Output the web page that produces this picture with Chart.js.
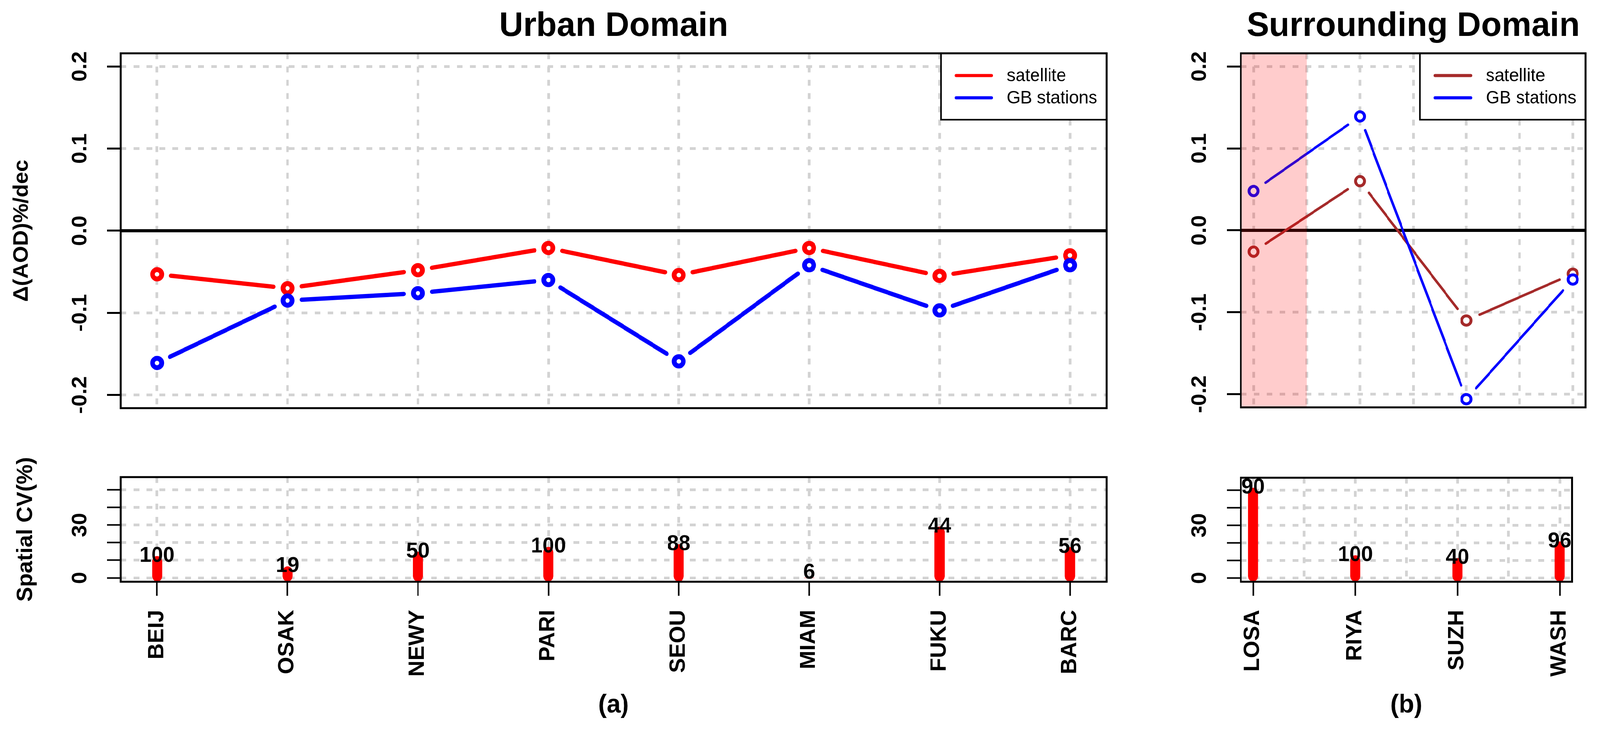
<!DOCTYPE html>
<html>
<head>
<meta charset="utf-8">
<script src="https://cdn.jsdelivr.net/npm/chart.js@4.4.1/dist/chart.umd.min.js"></script>
<style>
html, body { margin: 0; padding: 0; background: #fff; overflow: hidden; }
#page { width: 4205px; height: 1880px; position: relative; transform-origin: 0 0; }
canvas { position: absolute; }
</style>
</head>
<body>
<div id="page">
<canvas id="urbanTrend" width="2960" height="1100" style="left:0;top:0"></canvas>
<canvas id="urbanCV" width="2960" height="730" style="left:0;top:1150px"></canvas>
<canvas id="surrTrend" width="1255" height="1100" style="left:2950px;top:0"></canvas>
<canvas id="surrCV" width="1255" height="730" style="left:2950px;top:1150px"></canvas>
</div>
<script>
// site codes
var urbanSites = ['BEIJ', 'OSAK', 'NEWY', 'PARI', 'SEOU', 'MIAM', 'FUKU', 'BARC'];
var surrSites = ['LOSA', 'RIYA', 'SUZH', 'WASH'];

// AOD trend, %/dec
var urbanSat = [-0.053, -0.070, -0.048, -0.021, -0.054, -0.021, -0.055, -0.030];
var urbanGB = [-0.161, -0.085, -0.076, -0.060, -0.159, -0.042, -0.097, -0.042];
var surrSat = [-0.026, 0.060, -0.110, -0.053];
var surrGB = [0.048, 0.139, -0.206, -0.060];

// spatial CV (%) and the numbers written over the bars
var urbanCV = [9.5, 3.7, 12.0, 14.7, 16.2, 0, 26.2, 14.6];
var urbanNum = [100, 19, 50, 100, 88, 6, 44, 56];
var surrCV = [48.6, 10.0, 8.4, 17.9];
var surrNum = [90, 100, 40, 96];

// ticks
var trendTicks = [-0.2, -0.1, 0.0, 0.1, 0.2];
var cvTicks = [0, 10, 20, 30, 40, 50];
var cvTickLabels = [0, 30];
var shadeUpTo = 1.5; // LOSA band in the surrounding panel

// the window can be narrower than the 4205px figure: squeeze it to fit
var kx = Math.min(1, window.innerWidth / 4205);
document.getElementById('page').style.transform = 'scale(' + kx + ',1)';

Chart.defaults.font.family = "'Liberation Sans', Arial, Helvetica, sans-serif";
Chart.defaults.color = '#000';

var GRID = '#d3d3d3';
var DASH = [15, 19];
var BAR_W = 26;

function pts(vals) {
    return vals.map(function (v, i) { return { x: i + 1, y: v }; });
}
function gridXs(n, step) {
    var out = [];
    for (var v = 1; v <= n + 1e-9; v += step) out.push({ value: Math.round(v * 2) / 2 });
    return out;
}
// R type="b": leave a gap round every point
function gapDash(gap) {
    return function (c) {
        var L = Math.hypot(c.p1.x - c.p0.x, c.p1.y - c.p0.y);
        return [0, gap, Math.max(0, L - 2 * gap), 2 * L + 10];
    };
}

var frame = {
    id: 'frame',
    afterDraw: function (chart) {
        var a = chart.chartArea, ctx = chart.ctx;
        ctx.save();
        ctx.strokeStyle = '#000';
        ctx.lineWidth = 5;
        ctx.strokeRect(a.left, a.top, a.right - a.left, a.bottom - a.top);
        ctx.restore();
    }
};

var zeroLine = {
    id: 'zeroLine',
    beforeDatasetsDraw: function (chart) {
        var a = chart.chartArea, ctx = chart.ctx;
        var y = chart.scales.y.getPixelForValue(0);
        ctx.save();
        ctx.strokeStyle = '#000';
        ctx.lineWidth = 8;
        ctx.beginPath();
        ctx.moveTo(a.left, y);
        ctx.lineTo(a.right, y);
        ctx.stroke();
        ctx.restore();
    }
};

var band = {
    id: 'band',
    afterDatasetsDraw: function (chart, args, o) {
        if (o.to == null) return;
        var a = chart.chartArea, ctx = chart.ctx;
        var x2 = chart.scales.x.getPixelForValue(o.to);
        ctx.save();
        ctx.fillStyle = 'rgba(255,0,0,0.2)';
        ctx.fillRect(a.left, a.top, x2 - a.left, a.bottom - a.top);
        ctx.restore();
    }
};

var boxLegend = {
    id: 'boxLegend',
    afterDatasetsDraw: function (chart) {
        var a = chart.chartArea, ctx = chart.ctx;
        var w = 435, h = 170, x = a.right - w, y = a.top;
        ctx.save();
        ctx.fillStyle = '#fff';
        ctx.fillRect(x, y, w, h);
        ctx.strokeStyle = '#000';
        ctx.lineWidth = 4;
        ctx.strokeRect(x, y, w, h);
        ctx.font = "46px 'Liberation Sans', Arial, sans-serif";
        ctx.textBaseline = 'middle';
        ctx.textAlign = 'left';
        chart.data.datasets.forEach(function (ds, i) {
            var ly = y + 57 + i * 57;
            ctx.strokeStyle = ds.borderColor;
            ctx.lineWidth = 8;
            ctx.lineCap = 'round';
            ctx.beginPath();
            ctx.moveTo(x + 40, ly);
            ctx.lineTo(x + 133, ly);
            ctx.stroke();
            ctx.fillStyle = '#000';
            ctx.fillText(ds.label, x + 173, ly + 2);
        });
        ctx.restore();
    }
};

// round line ends of the CV bars (R type="h" with a thick lwd)
var barCaps = {
    id: 'barCaps',
    afterDatasetsDraw: function (chart) {
        var a = chart.chartArea, ctx = chart.ctx;
        var meta = chart.getDatasetMeta(0);
        var data = chart.data.datasets[0].data;
        ctx.save();
        ctx.beginPath();
        ctx.rect(a.left, a.top, a.right - a.left, a.bottom - a.top);
        ctx.clip();
        ctx.fillStyle = chart.data.datasets[0].backgroundColor;
        meta.data.forEach(function (el, i) {
            if (!(data[i].y > 0)) return;
            var r = el.width / 2;
            ctx.beginPath();
            ctx.arc(el.x, el.y, r, 0, Math.PI * 2);
            ctx.arc(el.x, el.base, r, 0, Math.PI * 2);
            ctx.fill();
        });
        ctx.restore();
    }
};

var barLabels = {
    id: 'barLabels',
    afterDatasetsDraw: function (chart, args, o) {
        var ctx = chart.ctx, ys = chart.scales.y;
        var meta = chart.getDatasetMeta(0);
        var data = chart.data.datasets[0].data;
        ctx.save();
        ctx.font = "bold 55px 'Liberation Sans', Arial, sans-serif";
        ctx.fillStyle = '#000';
        ctx.textAlign = 'center';
        ctx.textBaseline = 'middle';
        meta.data.forEach(function (el, i) {
            ctx.fillText(String(o.labels[i]), el.x, ys.getPixelForValue(data[i].y + 3));
        });
        ctx.restore();
    }
};

function trendChart(id, sites, sat, gb, s) {
    var n = sites.length, pad = 0.04 * (n - 1);
    function series(label, vals, color, order) {
        return {
            label: label,
            data: pts(vals),
            borderColor: color,
            backgroundColor: color,
            pointBorderColor: color,
            pointBackgroundColor: '#fff',
            borderWidth: s.lw,
            borderCapStyle: 'round',
            pointRadius: s.pr,
            pointBorderWidth: s.pbw,
            tension: 0,
            segment: { borderDash: gapDash(s.gap) },
            order: order
        };
    }
    return new Chart(document.getElementById(id), {
        type: 'line',
        data: {
            datasets: [
                series('satellite', sat, s.satColor, 2),
                series('GB stations', gb, '#0000ff', 1)
            ]
        },
        options: {
            responsive: false,
            animation: false,
            devicePixelRatio: 1,
            layout: { padding: { left: 0, top: 0, right: s.padRight, bottom: 21 } },
            scales: {
                x: {
                    type: 'linear',
                    min: 1 - pad,
                    max: n + pad,
                    offset: false,
                    afterBuildTicks: function (sc) { sc.ticks = gridXs(n, s.gridStep); },
                    ticks: { display: false, autoSkip: false },
                    grid: { color: GRID, lineWidth: 7, drawTicks: false, offset: false },
                    border: { display: false, dash: DASH },
                    afterFit: function (sc) { sc.height = 0; }
                },
                y: {
                    min: -0.216,
                    max: 0.216,
                    afterBuildTicks: function (sc) { sc.ticks = trendTicks.map(function (v) { return { value: v }; }); },
                    ticks: {
                        autoSkip: false,
                        font: { size: 56, weight: 'bold' },
                        minRotation: 90,
                        maxRotation: 90,
                        crossAlign: 'center',
                        padding: s.tickPad,
                        callback: function (v) { return Number(v).toFixed(1); }
                    },
                    grid: { color: GRID, lineWidth: 7, tickLength: 36, tickWidth: 5, tickColor: '#000' },
                    border: { display: false, dash: DASH },
                    title: {
                        display: !!s.yTitle,
                        text: s.yTitle || '',
                        font: { size: 56, weight: 'bold' },
                        padding: { top: 24, bottom: 0 }
                    },
                    afterFit: function (sc) { sc.width = s.yWidth; }
                }
            },
            plugins: {
                legend: { display: false },
                tooltip: { enabled: false },
                title: {
                    display: true,
                    text: s.title,
                    fullSize: false,
                    font: { size: 88, weight: 'bold' },
                    padding: { top: 15, bottom: 16 }
                },
                band: { to: s.bandTo }
            }
        },
        plugins: [zeroLine, band, boxLegend, frame]
    });
}

function cvChart(id, sites, cv, nums, s) {
    var n = sites.length, pad = 0.04 * (n - 1);
    return new Chart(document.getElementById(id), {
        type: 'bar',
        data: {
            datasets: [{
                label: 'Spatial CV(%)',
                data: pts(cv),
                backgroundColor: '#ff0000',
                barThickness: BAR_W,
                borderSkipped: 'start'
            }]
        },
        options: {
            responsive: false,
            animation: false,
            devicePixelRatio: 1,
            layout: { padding: { left: 0, top: 72, right: s.padRight, bottom: 0 } },
            scales: {
                x: {
                    type: 'linear',
                    min: 1 - pad,
                    max: n + pad,
                    offset: false,
                    afterBuildTicks: function (sc) { sc.ticks = gridXs(n, s.gridStep); },
                    ticks: {
                        autoSkip: false,
                        font: { size: 57, weight: 'bold' },
                        minRotation: 90,
                        maxRotation: 90,
                        padding: 36,
                        callback: function (v) { return Number.isInteger(v) ? sites[v - 1] : ''; }
                    },
                    grid: {
                        color: GRID, lineWidth: 7, offset: false,
                        tickLength: 36, tickWidth: 4,
                        tickColor: function (c) { return c.tick && Number.isInteger(c.tick.value) ? '#000' : 'rgba(0,0,0,0)'; }
                    },
                    border: { display: false, dash: DASH },
                    title: {
                        display: true,
                        text: s.panel,
                        font: { size: 66, weight: 'bold' },
                        padding: { top: 0, bottom: 34 }
                    },
                    afterFit: function (sc) { sc.height = 390; }
                },
                y: {
                    min: -2.2,
                    max: 57.2,
                    beginAtZero: false,
                    afterBuildTicks: function (sc) { sc.ticks = cvTicks.map(function (v) { return { value: v }; }); },
                    ticks: {
                        autoSkip: false,
                        font: { size: 56, weight: 'bold' },
                        minRotation: 90,
                        maxRotation: 90,
                        crossAlign: 'center',
                        padding: s.tickPad,
                        callback: function (v) { return cvTickLabels.indexOf(v) >= 0 ? String(v) : ''; }
                    },
                    grid: { color: GRID, lineWidth: 7, tickLength: 36, tickWidth: 4, tickColor: '#000' },
                    border: { display: false, dash: DASH },
                    title: {
                        display: !!s.yTitle,
                        text: s.yTitle || '',
                        font: { size: 57, weight: 'bold' },
                        padding: { top: 34, bottom: 0 }
                    },
                    afterFit: function (sc) { sc.width = s.yWidth; }
                }
            },
            plugins: {
                legend: { display: false },
                tooltip: { enabled: false },
                barLabels: { labels: nums }
            }
        },
        plugins: [barCaps, barLabels, frame]
    });
}

trendChart('urbanTrend', urbanSites, urbanSat, urbanGB, {
    title: 'Urban Domain', yTitle: '\u0394(AOD)%/dec', satColor: '#ff0000',
    lw: 11, pr: 12, pbw: 12.5, gap: 37, yWidth: 317, padRight: 52, tickPad: 21, gridStep: 1, bandTo: null
});
cvChart('urbanCV', urbanSites, urbanCV, urbanNum, {
    panel: '(a)', yTitle: 'Spatial CV(%)', yWidth: 317, padRight: 52, tickPad: 38, gridStep: 1
});
trendChart('surrTrend', surrSites, surrSat, surrGB, {
    title: 'Surrounding Domain', yTitle: '', satColor: '#a52a2a',
    lw: 6.5, pr: 12, pbw: 7.5, gap: 38, yWidth: 311, padRight: 38, tickPad: 23, gridStep: 0.5, bandTo: shadeUpTo
});
cvChart('surrCV', surrSites, surrCV, surrNum, {
    panel: '(b)', yTitle: '', yWidth: 311, padRight: 38, tickPad: 40, gridStep: 0.5
});
</script>
</body>
</html>
